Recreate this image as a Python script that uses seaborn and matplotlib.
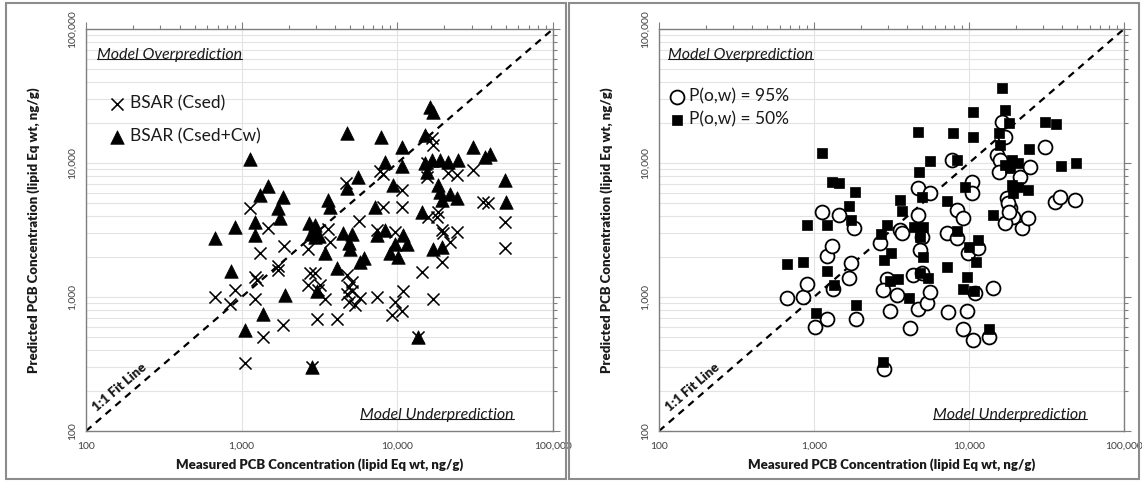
import matplotlib
matplotlib.use("Agg")
import matplotlib.pyplot as plt
import numpy as np
import pandas as pd
import seaborn as sns
from matplotlib.ticker import LogLocator, FuncFormatter, NullFormatter
from matplotlib.lines import Line2D
from matplotlib.patches import Rectangle

# ---------------- data ----------------
csed_x = [670, 900, 840, 1220, 1220, 1250, 1310, 1720, 1700, 1850, 1380, 1050, 1130, 1480, 1870,
          2820, 2750, 2950, 2670, 3190, 3100, 3430, 3050, 4070, 2680, 3690, 3600, 5650, 4700, 7700,
          4730, 5090, 4900, 4750, 5090, 4880, 5350, 5750, 7360, 16600, 17000, 30800, 24000, 21200,
          15500, 10700, 10700, 8130, 7360, 9660, 18300, 17900, 15800, 19300, 19700, 24000, 21800,
          19300, 14300, 17000, 10900, 9660, 10700, 9200, 49000, 49000, 35600, 38400, 13600, 15400, 8100]
csed_y = [1000, 1130, 880, 960, 1420, 1330, 2120, 1700, 1600, 620, 505, 320, 4600, 3300, 2420,
          300, 1500, 1500, 1230, 1230, 1130, 960, 690, 690, 2270, 2590, 3200, 3700, 7150, 8700,
          1460, 1300, 1190, 1050, 1100, 920, 870, 980, 1000, 15400, 13600, 8870, 8100, 8400,
          7900, 6300, 4720, 4720, 3160, 3070, 4330, 3970, 3970, 3160, 2990, 3070, 2590,
          1830, 1545, 960, 1100, 920, 780, 730, 3650, 2310, 5100, 5000, 500, 10000, 8300]

csedcw_x = [670, 860, 900, 1050, 1130, 1220, 1220, 1310, 1380, 1480, 1720, 1760, 1850, 1900,
            2820, 2700, 2950, 2900, 2800, 2950, 3150, 3030, 3430, 3600, 3690, 4070, 4500, 5130,
            4900, 5000, 5750, 6150, 4730, 4730, 5610, 7180, 7360, 7800, 8340, 8340, 9400, 9000,
            9660, 10100, 10700, 10700, 10900, 11500, 13600, 14300, 15000, 15100, 15500, 16200,
            17000, 16600, 17000, 18300, 18800, 18800, 19300, 19300, 21200, 21800, 24000, 24700,
            30800, 36500, 39400, 49000, 50000]
csedcw_y = [2750, 1550, 3350, 570, 10800, 3650, 2900, 5800, 750, 6700, 4600, 3870, 5600, 1040,
            300, 3550, 3450, 3100, 2950, 2800, 2850, 1100, 2120, 5300, 4700, 1640, 2990, 2930,
            2540, 2270, 1840, 1950, 6500, 16700, 7900, 4720, 2900, 15700, 10200, 3160, 6850, 2120,
            2500, 2000, 13200, 9500, 2900, 2500, 500, 4300, 16200, 9950, 8500, 26300,
            24200, 10500, 2300, 6900, 6100, 10500, 5300, 2370, 10200, 5900, 5450, 10500,
            13200, 11100, 11700, 7500, 5100]

p95_x = [670, 850, 900, 1020, 1210, 1210, 1300, 1330, 1690, 1730, 1880, 1120, 1450, 1820, 2670,
         3590, 3680, 2940, 2800, 3420, 3090, 4160, 2840, 4710, 5600, 4710, 4950, 4830, 4370, 4950,
         4710, 5330, 5600, 16250, 17100, 30900, 15100, 15850, 15500, 7730, 10400, 10400, 8330,
         9190, 7180, 8330, 9890, 11480, 10900, 14300, 7360, 9660, 9190, 10670, 13500, 17500,
         18400, 19300, 17060, 21900, 24150, 21330, 24770, 35900, 38650, 48300, 17800, 18000]
p95_y = [980, 1000, 1250, 600, 680, 2030, 2420, 1150, 1380, 1800, 680, 4330, 4090, 3260, 2540,
         3160, 2990, 1360, 1130, 1035, 780, 590, 290, 6470, 5940, 4090, 2820, 2240, 1460, 1500,
         810, 906, 1096, 20300, 15700, 13200, 11500, 10500, 8600, 10500, 7250, 5940, 4460,
         3870, 2990, 2740, 2120, 2310, 1070, 1160, 777, 790, 575, 480, 506, 5450,
         4590, 3970, 3550, 3260, 3870, 7900, 9380, 5140, 5610, 5300, 5000, 4300]

p50_x = [667, 845, 1210, 1350, 1030, 1880, 1120, 1300, 1460, 1840, 1690, 1730, 900, 1210, 2800,
         4710, 5600, 4760, 3590, 3680, 4950, 2940, 2700, 4440, 5020, 4830, 3140, 2840, 3090, 3470,
         5020, 4830, 5460, 4120, 16250, 17100, 18200, 10560, 7850, 10560, 15500, 15850, 30900,
         36400, 24500, 8330, 17060, 18850, 20800, 18400, 39000, 48800, 9420, 18850, 20800, 24150,
         19300, 14350, 7240, 8410, 11480, 10050, 11090, 7240, 9660, 9190, 10830, 13500]
p50_y = [1760, 1830, 1570, 1230, 760, 870, 11800, 7250, 7050, 6110, 4780, 3760, 3450, 3450, 330,
         17100, 10400, 8610, 5300, 4400, 5540, 3450, 2950, 3350, 3350, 2820, 2140, 1890, 1320, 1360,
         2000, 1500, 1380, 990, 36000, 24900, 20000, 24200, 16800, 15700, 16700, 13600, 20300,
         19500, 12700, 10500, 9660, 10500, 9950, 9130, 9500, 9950, 6650, 6850, 6650, 6290,
         5940, 4090, 5200, 3125, 2660, 2370, 1830, 1680, 1420, 1140, 1115, 575]

left_labels = ["BSAR (Csed)", "BSAR (Csed+Cw)"]
right_labels = ["P(o,w) = 95%", "P(o,w) = 50%"]
axis_limits = [100, 100000]
x_title = "Measured PCB Concentration (lipid Eq wt, ng/g)"
y_title = "Predicted PCB Concentration (lipid Eq wt, ng/g)"
over_text = "Model Overprediction"
under_text = "Model Underprediction"
fit_text = "1:1 Fit Line"

# ---------------- style ----------------
sns.set_style("white")
plt.rcParams["font.family"] = ["Lato", "DejaVu Sans"]

W, H = 1142, 482
fig = plt.figure(figsize=(W / 100, H / 100), dpi=100)
fig.patch.set_facecolor("white")

ax_l = fig.add_axes([86 / W, 1 - 431 / H, 467 / W, 402 / H])
ax_r = fig.add_axes([659 / W, 1 - 431 / H, 465 / W, 402 / H])

df_csed = pd.DataFrame({"x": csed_x, "y": csed_y})
df_csedcw = pd.DataFrame({"x": csedcw_x, "y": csedcw_y})
df_p95 = pd.DataFrame({"x": p95_x, "y": p95_y})
df_p50 = pd.DataFrame({"x": p50_x, "y": p50_y})

spine_col = "#7f7f7f"
grid_col = "#e3e3e3"
txt_col = "#1a1a1a"


def style_axes(ax):
    ax.set_xscale("log")
    ax.set_yscale("log")
    ax.set_xlim(axis_limits)
    ax.set_ylim(axis_limits)
    ax.xaxis.set_major_locator(LogLocator(base=10, numticks=10))
    ax.yaxis.set_major_locator(LogLocator(base=10, numticks=10))
    ax.xaxis.set_minor_locator(LogLocator(base=10, subs=np.arange(2, 10), numticks=20))
    ax.yaxis.set_minor_locator(LogLocator(base=10, subs=np.arange(2, 10), numticks=20))
    fmt = FuncFormatter(lambda v, p: f"{v:,.0f}")
    ax.xaxis.set_major_formatter(fmt)
    ax.yaxis.set_major_formatter(fmt)
    ax.xaxis.set_minor_formatter(NullFormatter())
    ax.yaxis.set_minor_formatter(NullFormatter())
    ax.set_axisbelow(True)
    ax.grid(False)
    ax.yaxis.grid(True, which="both", color=grid_col, lw=0.8)
    ax.xaxis.grid(True, which="major", color=grid_col, lw=0.8)
    for s in ax.spines.values():
        s.set_visible(True)
        s.set_color(spine_col)
        s.set_linewidth(1.0)
    ax.tick_params(which="both", direction="out", top=True, right=True,
                   color=spine_col, width=0.8)
    ax.tick_params(which="major", length=5, labelsize=7.5, labelcolor="#404040", pad=3)
    ax.tick_params(axis="y", which="major", pad=1.5)
    ax.tick_params(which="minor", length=3)
    ax.plot(axis_limits, axis_limits, ls=(0, (3.2, 2.6)), color="black", lw=1.6, zorder=1)
    ax.text(0.072, 0.108, fit_text, transform=ax.transAxes, rotation=40.7,
            rotation_mode="anchor", ha="center", va="center", fontsize=9.5,
            fontweight="heavy", color=txt_col)


# left panel
style_axes(ax_l)
sns.scatterplot(data=df_csed, x="x", y="y", ax=ax_l, marker="x", s=75,
                color="black", linewidth=1.15, label=left_labels[0], zorder=3)
sns.scatterplot(data=df_csedcw, x="x", y="y", ax=ax_l, marker="^", s=95,
                color="black", edgecolor="black", linewidth=0.5,
                label=left_labels[1], zorder=4)
ax_l.legend(loc="upper left", bbox_to_anchor=(0.026, 0.857), frameon=False,
            fontsize=12.5, handletextpad=0.12, labelspacing=0.98, borderpad=0,
            handlelength=1.2, markerscale=1.0, labelcolor=txt_col)

# right panel
style_axes(ax_r)
sns.scatterplot(data=df_p95, x="x", y="y", ax=ax_r, marker="o", s=100,
                color="white", edgecolor="black", linewidth=1.3,
                label=right_labels[0], zorder=3)
sns.scatterplot(data=df_p50, x="x", y="y", ax=ax_r, marker="s", s=58,
                color="black", edgecolor="black", linewidth=0.5,
                label=right_labels[1], zorder=4)
ax_r.legend(loc="upper left", bbox_to_anchor=(-0.003, 0.874), frameon=False,
            fontsize=12.5, handletextpad=0.08, labelspacing=0.4, borderpad=0,
            handlelength=1.2, labelcolor=txt_col)

for ax in (ax_l, ax_r):
    ax.set_xlabel(x_title, fontsize=9.5, fontweight="heavy", labelpad=5, color=txt_col)
    ax.set_ylabel(y_title, fontsize=9.5, fontweight="heavy", labelpad=20, color=txt_col)
    ax.tick_params(axis="y", labelrotation=90)
    for lab in ax.get_yticklabels():
        lab.set_va("center")

# annotation texts
texts = []
for ax, xo, xu in ((ax_l, 0.0236, 0.587), (ax_r, 0.019, 0.589)):
    t1 = ax.text(xo, 0.935, over_text, transform=ax.transAxes, ha="left", va="center",
                 fontsize=11.5, style="italic", color=txt_col)
    t2 = ax.text(xu, 0.04, under_text, transform=ax.transAxes, ha="left", va="center",
                 fontsize=11.5, style="italic", color=txt_col)
    texts += [t1, t2]

# chart frames (Excel-style chart borders)
fig.add_artist(Rectangle((6 / W, 3 / H), 560 / W, 476 / H, transform=fig.transFigure,
                         fill=False, edgecolor="#8c8c8c", lw=1.5))
fig.add_artist(Rectangle((569 / W, 3 / H), 570 / W, 476 / H, transform=fig.transFigure,
                         fill=False, edgecolor="#8c8c8c", lw=1.5))

# underline the annotation texts
fig.canvas.draw()
renderer = fig.canvas.get_renderer()
inv = fig.transFigure.inverted()
for t in texts:
    bb = t.get_window_extent(renderer).transformed(inv)
    yline = bb.y0 + 0.22 * (bb.y1 - bb.y0)
    fig.add_artist(Line2D([bb.x0, bb.x1], [yline, yline], transform=fig.transFigure,
                          color=txt_col, lw=0.8))

fig.savefig("out.png", dpi=100, facecolor="white")
